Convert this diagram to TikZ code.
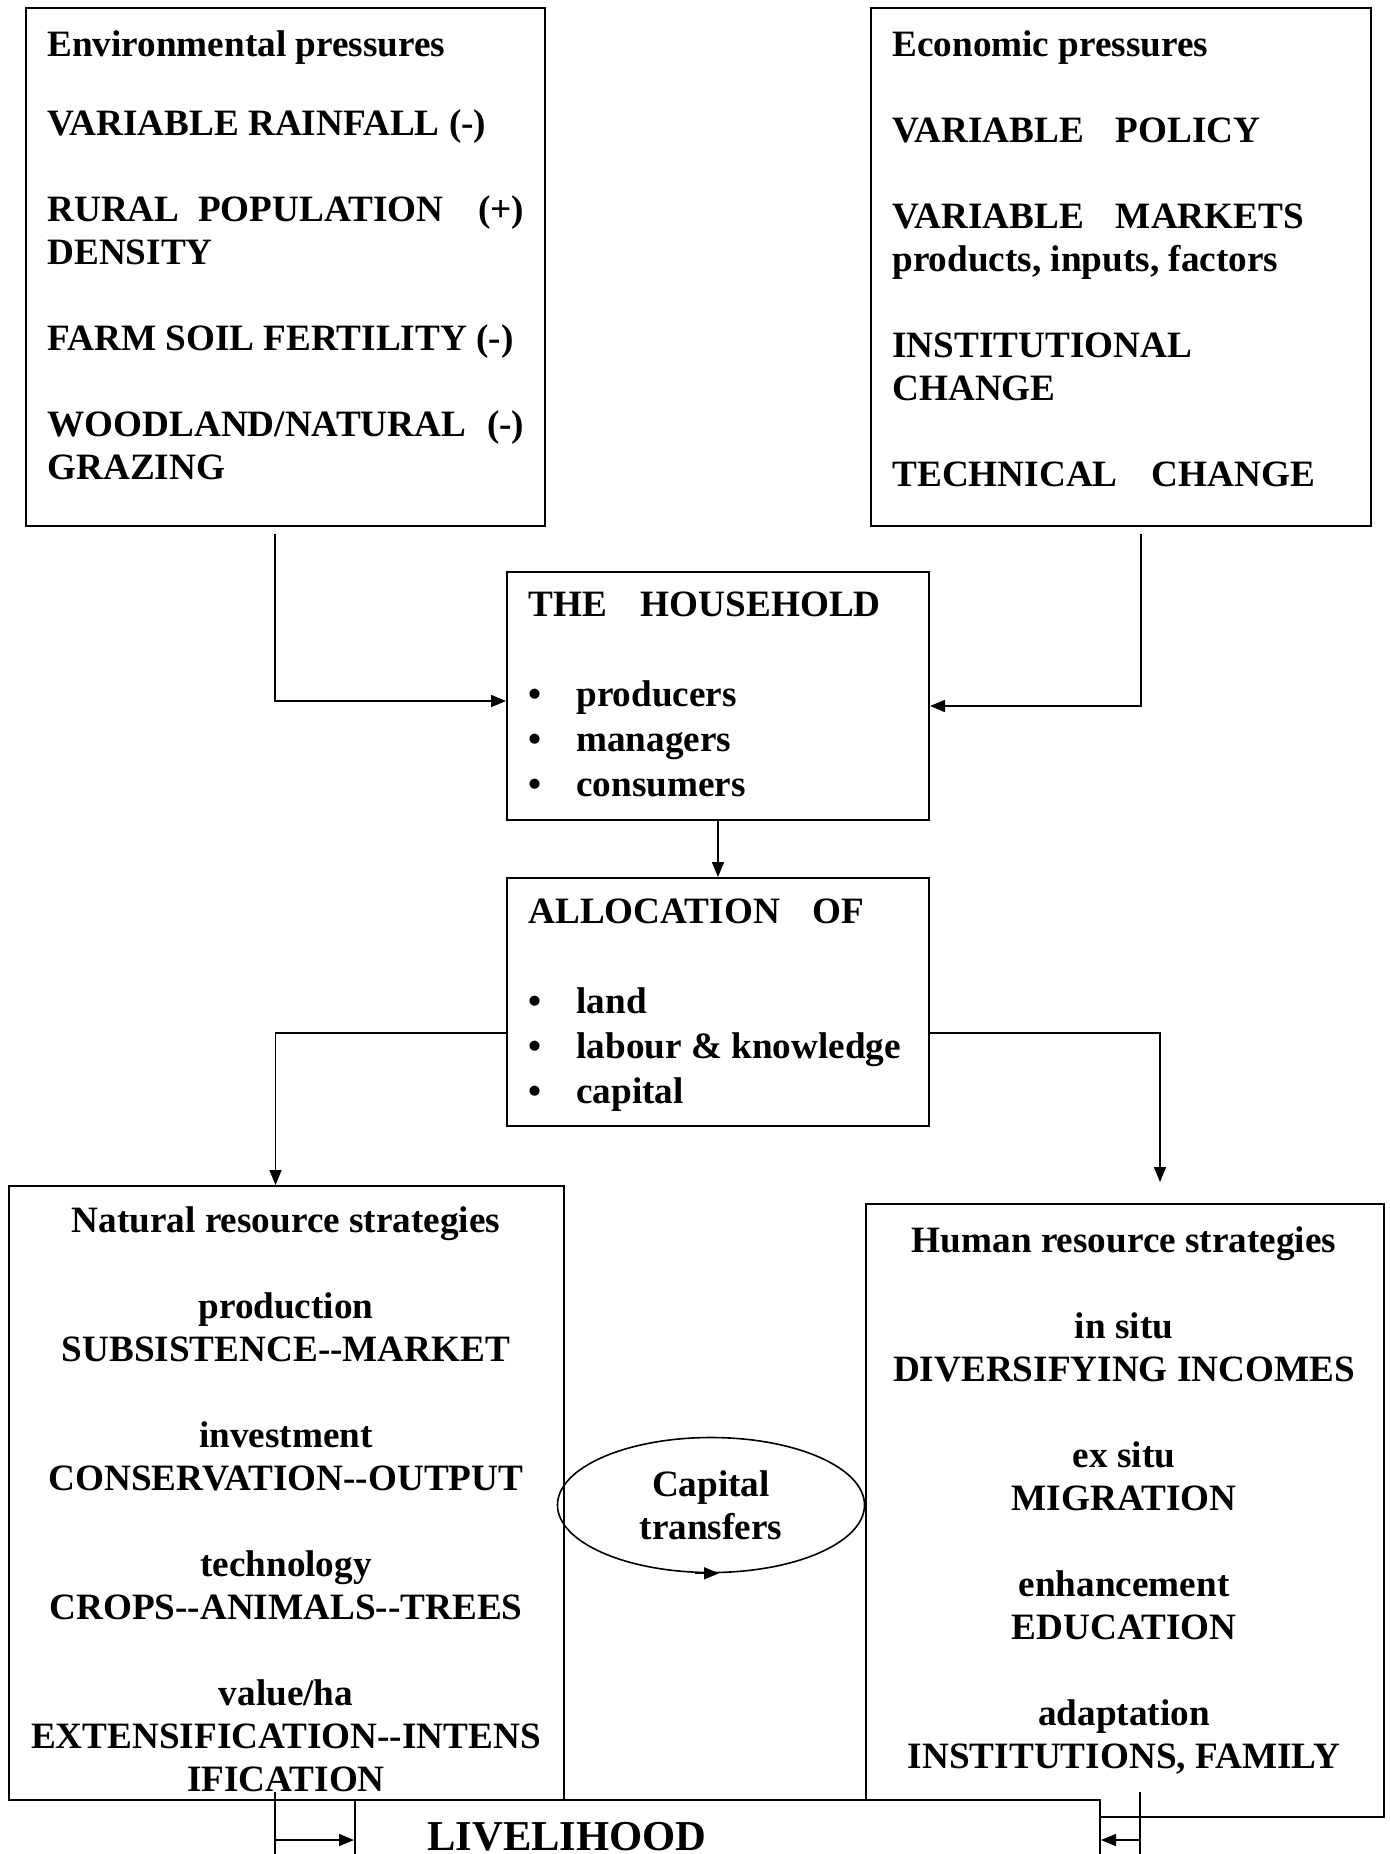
\documentclass[tikz,border=0pt]{standalone}
\usepackage{fontspec}
\setmainfont{Liberation Serif}[Ligatures=TeXOff]
\usetikzlibrary{arrows.meta, shapes.geometric, positioning}

\begin{document}
\begin{tikzpicture}[x=0.5pt, y=-0.5pt,
  box/.style={draw, line width=1pt, inner sep=0pt},
  txt/.style={inner sep=0pt, font=\fontsize{18.6}{21.5}\selectfont\bfseries},
  arr/.style={line width=0.8pt, -{Triangle[length=7.5pt,width=6pt]}}]
\useasboundingbox (0,0) rectangle (1389,1854);

% Environmental pressures
\node[box, minimum width=259.5pt, minimum height=259pt] (env) at (285.5,267) {};
\node[txt, anchor=north west, align=left] (envtxt) at (47,30) {Environmental pressures\\[18pt]
VARIABLE RAINFALL (-)\\[21.5pt]
\makebox[238.5pt][l]{RURAL\ \ POPULATION\hfill(+)}\\
DENSITY\\[21.5pt]
FARM SOIL FERTILITY (-)\\[21.5pt]
\makebox[238.5pt][l]{WOODLAND/NATURAL\hfill(-)}\\
GRAZING};

% Economic pressures
\node[box, minimum width=250pt, minimum height=259pt] (eco) at (1121,267) {};
\node[txt, anchor=north west, align=left] (ecotxt) at (892,30) {Economic pressures\\[21.5pt]
VARIABLE\hspace{16pt}POLICY\\[21.5pt]
VARIABLE\hspace{16pt}MARKETS\\
products, inputs, factors\\[21.5pt]
INSTITUTIONAL\\
CHANGE\\[21.5pt]
TECHNICAL\hspace{17pt}CHANGE};

% The household
\node[box, minimum width=211pt, minimum height=124pt] (house) at (718,696) {};
\node[txt, font=\fontsize{18.6}{22.5}\selectfont\bfseries, anchor=north west, align=left] (housetxt) at (528,591) {THE\hspace{17pt}HOUSEHOLD\\[22.5pt]
\makebox[24pt][l]{\textbullet}producers\\
\makebox[24pt][l]{\textbullet}managers\\
\makebox[24pt][l]{\textbullet}consumers};

% Allocation
\node[box, minimum width=211pt, minimum height=124pt] (alloc) at (718,1002) {};
\node[txt, font=\fontsize{18.6}{22.5}\selectfont\bfseries, anchor=north west, align=left] (alloctxt) at (528,898) {ALLOCATION\hspace{16.5pt}OF\\[22.5pt]
\makebox[24pt][l]{\textbullet}land\\
\makebox[24pt][l]{\textbullet}labour \& knowledge\\
\makebox[24pt][l]{\textbullet}capital};

% Natural resource strategies
\node[box, minimum width=277.5pt, minimum height=307pt] (nat) at (286.5,1493) {};
\node[txt, anchor=north, align=center] (nattxt) at (286,1206) {Natural resource strategies\\[21.5pt]
production\\ SUBSISTENCE--MARKET\\[21.5pt]
investment\\ CONSERVATION--OUTPUT\\[21.5pt]
technology\\ CROPS--ANIMALS--TREES\\[21.5pt]
value/ha\\ EXTENSIFICATION--INTENS\\ IFICATION};

% Human resource strategies
\node[box, minimum width=259pt, minimum height=306.5pt] (human) at (1125,1510.5) {};
\node[txt, anchor=north, align=center] (humantxt) at (1124,1226) {Human resource strategies\\[21.5pt]
in situ\\ DIVERSIFYING INCOMES\\[21.5pt]
ex situ\\ MIGRATION\\[21.5pt]
enhancement\\ EDUCATION\\[21.5pt]
adaptation\\ INSTITUTIONS, FAMILY};

% Capital transfers
\node[txt, draw, ellipse, line width=0.8pt, minimum width=153.5pt, minimum height=67.5pt, align=center] (cap) at (711,1505) {Capital\\transfers};
\draw[arr] ([xshift=-8pt]cap.south) -- ([xshift=4pt]cap.south);

% Livelihood
\node[box, fill=white, minimum width=372.5pt, minimum height=60pt] (liveli) at (727.5,1860) {};
\node[inner sep=0pt, font=\fontsize{21.3}{24}\selectfont\bfseries, anchor=base] (livtxt) at (567,1850) {LIVELIHOOD};

% Connectors
\coordinate (envout) at (275,534);
\coordinate (ecoout) at (1141,534);
\draw[arr] (envout) |- ([yshift=-2.5pt]house.west);
\draw[arr] (ecoout) |- ([yshift=-5pt]house.east);
\draw[arr] (house.south) -- (alloc.north);
\draw[arr] ([yshift=-15.5pt]alloc.west) -| ([xshift=-5.5pt]nat.north);
\draw[arr] ([yshift=-15.5pt]alloc.east) -| ([xshift=17.5pt,yshift=10.5pt]human.north);

% Into livelihood
\coordinate (natout) at (275,1792);
\coordinate (humout) at (1140,1792);
\coordinate (natfoot) at (275,1840);
\coordinate (humfoot) at (1140,1840);
\draw[line width=0.8pt] (natout) -- ++(0,80);
\draw[line width=0.8pt] (humout) -- ++(0,80);
\draw[arr] (natfoot) -- (natfoot -| liveli.west);
\draw[arr] (humfoot) -- (humfoot -| liveli.east);
\end{tikzpicture}
\end{document}
